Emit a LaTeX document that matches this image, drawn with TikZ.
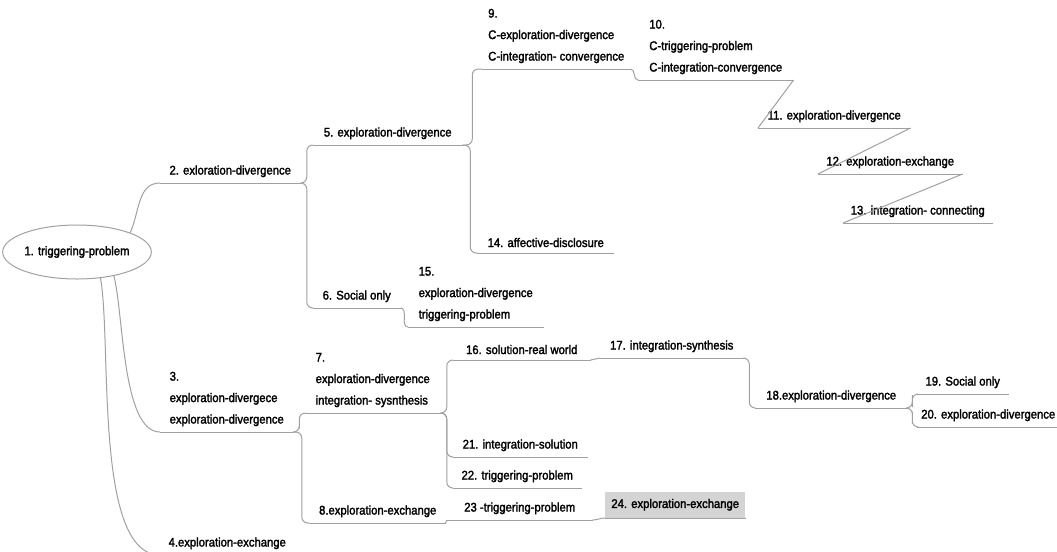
\documentclass[tikz,border=0pt]{standalone}
\usepackage{fontspec}
\setmainfont{Liberation Sans}[FakeStretch=0.9,FakeBold=2]
\usepackage{tikz}
\usetikzlibrary{shapes.geometric,calc}
\definecolor{linhacinza}{RGB}{160,160,160}
\definecolor{caixacinza}{RGB}{212,212,212}

\tikzset{
  topic/.style={anchor=south west, align=left, inner xsep=0pt, inner ysep=4.2pt},
  link/.style={draw=linhacinza, line width=0.75pt, rounded corners=4.5pt},
}

\begin{document}
\begin{tikzpicture}[x=0.75pt, y=-0.75pt, font=\fontsize{9.4}{16.1}\selectfont]
        \useasboundingbox (0,0) rectangle (1057,551);

        % Raiz
        \node[ellipse, draw=linhacinza, line width=0.75pt, minimum width=99pt, minimum height=40.5pt, inner sep=0pt] (n1) at (77,252) {1. triggering-problem};

        % Primeiro nivel
        \node[topic, minimum width=105pt] (n2) at (160,183) {2. exloration-divergence};
        \node[topic, minimum width=99.75pt] (n3) at (160,432) {3.\\exploration-divergece\\exploration-divergence};
        \node[topic, minimum width=100.5pt] (n4) at (160,555) {4.exploration-exchange};

        % Segundo nivel
        \node[topic, minimum width=111.75pt] (n5) at (313,145) {5. exploration-divergence};
        \node[topic, minimum width=65.25pt] (n6) at (313,308) {6. Social only};
        \node[topic, minimum width=101.25pt] (n7) at (305,413) {7.\\exploration-divergence\\integration- sysnthesis};
        \node[topic, minimum width=101.25pt] (n8) at (310,523) {8.exploration-exchange};

        % Ramo superior
        \node[topic, minimum width=111pt] (n9) at (482,69) {9.\\C-exploration-divergence\\C-integration- convergence};
        \node[topic, minimum width=116.25pt] (n10) at (638,80) {10.\\C-triggering-problem\\C-integration-convergence};
        \node[topic, minimum width=114pt] (n11) at (758,128) {11. exploration-divergence};
        \node[topic, minimum width=108pt] (n12) at (818,174) {12. exploration-exchange};
        \node[topic, minimum width=111.75pt] (n13) at (843,223) {13. integration- connecting};
        \node[topic, minimum width=101.25pt] (n14) at (478,253) {14. affective-disclosure};
        \node[topic, minimum width=101.25pt] (n15) at (408,327) {15.\\exploration-divergence\\triggering-problem};

        % Ramo inferior
        \node[topic, minimum width=102.75pt] (n16) at (453,360) {16. solution-real world};
        \node[topic, minimum width=107.25pt] (n17) at (600,358) {17. integration-synthesis};
        \node[topic, minimum width=114pt] (n18) at (755,408) {18.exploration-divergence};
        \node[topic, minimum width=68.25pt] (n19) at (917,394) {19. Social only};
        \node[topic, inner xsep=3pt] (n20) at (917,427) {20. exploration-divergence};
        \node[topic, minimum width=100.5pt] (n21) at (453,457) {21. integration-solution};
        \node[topic, minimum width=96pt] (n22) at (453,488) {22. triggering-problem};
        \node[topic, minimum width=108.75pt] (n23) at (447,520) {23 -triggering-problem};
        \node[topic, minimum width=105pt, minimum height=19.5pt, fill=caixacinza] (n24) at (605,518) {24. exploration-exchange};

        % Sublinhados
        \foreach \i in {2,...,24}
            \draw[link] (n\i.south west) -- (n\i.south east);

        % Ligacoes da raiz
        \draw[link] (n1.20) to[out=65, in=180] (n2.south west);
        \draw[link] (n1.-33) to[out=-75, in=180, looseness=0.6] (n3.south west);
        \draw[link] (n1.-48) to[out=-80, in=180, looseness=0.6] (n4.south west);

        % Ligacoes em cotovelo
        \foreach \p/\c in {n2/n5, n2/n6, n5/n9, n5/n14, n3/n7, n3/n8, n7/n16, n7/n21, n7/n22, n17/n18, n18/n19, n18/n20}
            \draw[link] (\p.south east) -| ($(\p.south east)!.5!(\c.south west)$) |- (\c.south west);

        % Ligacoes curtas
        \foreach \p/\c in {n6/n15, n9/n10, n16/n17, n8/n23, n23/n24}
            \draw[link] (\p.south east) to[out=0, in=180] (\c.south west);

        % Escada
        \draw[link] (n10.south east) -- (n11.south west);
        \draw[link] (n11.south east) -- (n12.south west);
        \draw[link] (n12.south east) -- (n13.south west);
    \end{tikzpicture}
\end{document}
